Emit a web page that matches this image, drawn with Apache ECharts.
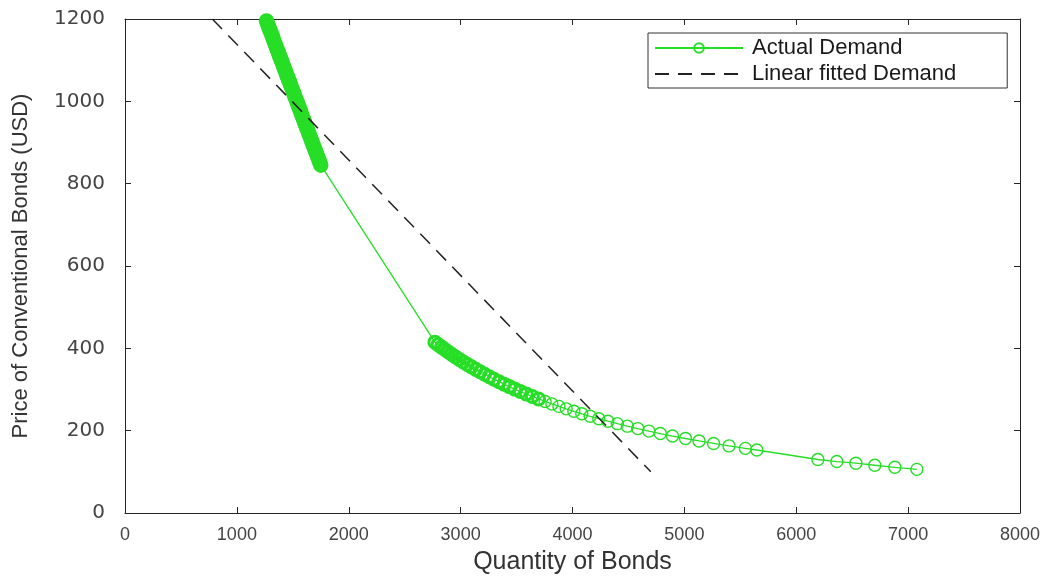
<!DOCTYPE html>
<html>
<head>
<meta charset="utf-8">
<title>Bond demand</title>
<script src="https://cdn.jsdelivr.net/npm/echarts@6/dist/echarts.min.js"></script>
<style>
  html, body { margin: 0; padding: 0; background: #fff; }
  #chart { width: 1052px; height: 576px; }
</style>
</head>
<body>
<div id="chart"></div>
<script>
// actual demand, steep part (quantity, price)
const demandHigh = [
  [1265, 1195], [1275, 1188], [1284, 1181], [1294, 1174], [1304, 1167], [1314, 1160],
  [1323, 1153], [1333, 1146], [1343, 1139], [1352, 1132], [1362, 1125], [1372, 1118],
  [1381, 1111], [1391, 1104], [1401, 1097], [1411, 1090], [1420, 1083], [1430, 1076],
  [1440, 1069], [1449, 1062], [1459, 1055], [1469, 1048], [1478, 1041], [1488, 1034],
  [1498, 1027], [1508, 1020], [1517, 1013], [1527, 1006], [1537, 999], [1546, 992],
  [1556, 985], [1566, 978], [1575, 971], [1585, 964], [1595, 957], [1605, 950],
  [1614, 943], [1624, 936], [1634, 929], [1643, 922], [1653, 915], [1663, 908],
  [1672, 901], [1682, 894], [1692, 887], [1702, 880], [1711, 873], [1721, 866],
  [1731, 859], [1740, 852], [1750, 845]
]
// actual demand, flat part
const demandLow = [
  [2770, 415], [2799, 409], [2829, 403], [2859, 397], [2890, 391], [2922, 385],
  [2955, 379], [2989, 373], [3024, 367], [3060, 361], [3097, 355], [3135, 349],
  [3174, 343], [3214, 337], [3256, 331], [3298, 325], [3343, 319], [3388, 313],
  [3435, 307], [3484, 301], [3534, 295], [3587, 289], [3641, 283], [3697, 277],
  [3755, 271], [3816, 265], [3879, 259], [3944, 253], [4012, 247], [4083, 241],
  [4158, 235], [4235, 229], [4316, 223], [4401, 217], [4490, 211], [4583, 205],
  [4682, 199], [4785, 193], [4894, 187], [5010, 181], [5131, 175], [5261, 169],
  [5399, 163], [5545, 157], [5648, 153]
]
const demandTail = [
  [6193, 130], [6363, 125], [6533, 121], [6702, 116], [6881, 111], [7078, 106]
]
// linear fit end points
const fitLine = [[780, 1200], [4700, 100]]

const xTicks = [0, 8000, 1000]
const yTicks = [0, 1200, 200]

const green = '#26de26'
const axisColor = '#262626'

const chart = echarts.init(document.getElementById('chart'))

// the overlapping markers read as a solid band in the figure
const demandData = [].concat(
  demandHigh.map(p => ({ value: p, itemStyle: { borderWidth: 3.5 } })),
  demandLow.map(p => ({ value: p, itemStyle: { borderWidth: p[1] > 272 ? 3 : 1.4 } })),
  demandTail
)

const frameAxis = {
  axisLine: { show: true, onZero: false, lineStyle: { color: axisColor, width: 1 } },
  axisTick: { show: true, inside: true, length: 6, lineStyle: { color: axisColor } },
  axisLabel: { show: false },
  splitLine: { show: false }
}
const plain = v => String(v)

chart.setOption({
  animation: false,
  backgroundColor: '#fff',
  grid: { left: 125, right: 32, top: 19, bottom: 63, outerBoundsMode: 'none' },
  legend: {
    orient: 'vertical',
    left: 648,
    top: 33,
    padding: [4, 51, 3, 6],
    itemGap: 4,
    itemWidth: 88,
    itemHeight: 12,
    backgroundColor: '#fff',
    borderColor: '#333',
    borderWidth: 1,
    borderRadius: 0,
    textStyle: { fontFamily: 'Liberation Sans', fontSize: 22, color: '#1a1a1a', padding: [0, 0, 0, 4] },
    data: [
      'Actual Demand',
      { name: 'Linear fitted Demand', itemStyle: { opacity: 0 } }
    ]
  },
  xAxis: [{
    type: 'value',
    min: xTicks[0], max: xTicks[1], interval: xTicks[2],
    name: 'Quantity of Bonds',
    nameLocation: 'middle',
    nameGap: 37,
    nameTextStyle: { fontFamily: 'Liberation Sans', fontSize: 25, color: '#333' },
    axisLine: { show: true, onZero: false, lineStyle: { color: axisColor } },
    axisTick: { inside: true, length: 6, lineStyle: { color: axisColor } },
    axisLabel: { margin: 13, fontFamily: 'Liberation Sans', fontSize: 18, color: '#444', formatter: plain },
    splitLine: { show: false }
  }, Object.assign({
    type: 'value', position: 'top',
    min: xTicks[0], max: xTicks[1], interval: xTicks[2]
  }, frameAxis)],
  yAxis: [{
    type: 'value',
    min: yTicks[0], max: yTicks[1], interval: yTicks[2],
    name: 'Price of Conventional Bonds (USD)',
    nameLocation: 'middle',
    nameGap: 93,
    nameTextStyle: { fontFamily: 'Liberation Sans', fontSize: 22, color: '#333' },
    axisLine: { show: true, onZero: false, lineStyle: { color: axisColor } },
    axisTick: { inside: true, length: 6, lineStyle: { color: axisColor } },
    axisLabel: { margin: 20, fontFamily: 'DejaVu Sans', fontSize: 20, color: '#444', formatter: plain },
    splitLine: { show: false }
  }, Object.assign({
    type: 'value', position: 'right',
    min: yTicks[0], max: yTicks[1], interval: yTicks[2]
  }, frameAxis)],
  series: [{
    name: 'Actual Demand',
    type: 'line',
    data: demandData,
    symbol: 'circle',
    symbolSize: 12,
    showAllSymbol: true,
    itemStyle: { color: 'rgba(0,0,0,0)', borderColor: green, borderWidth: 1.4 },
    lineStyle: { color: green, width: 1.3 },
    z: 3
  }, {
    name: 'Linear fitted Demand',
    type: 'line',
    data: fitLine,
    symbol: 'none',
    itemStyle: { color: '#222' },
    lineStyle: { color: '#222', width: 1.5, type: [14, 9] },
    z: 4
  }]
})
</script>
</body>
</html>
